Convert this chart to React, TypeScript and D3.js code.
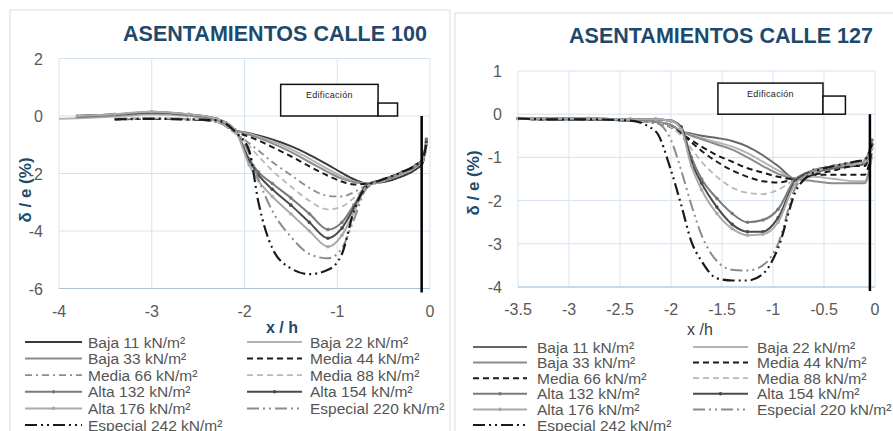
import React from 'react'
import { scaleLinear, line, curveMonotoneX } from 'd3'

const seriesNames = [
  'Baja 11 kN/m²', 'Baja 22 kN/m²', 'Baja 33 kN/m²', 'Media 44 kN/m²', 'Media 66 kN/m²',
  'Media 88 kN/m²', 'Alta 132 kN/m²', 'Alta 154 kN/m²', 'Alta 176 kN/m²',
  'Especial 220 kN/m²', 'Especial 242 kN/m²',
]

// ---- Calle 100 (x/h vs δ/e %) ----
const ticksX100 = [-4, -3, -2, -1, 0]
const ticksY100 = [-6, -4, -2, 0, 2]
const xs100 = [-4, -3.8, -3.4, -3.0, -2.6, -2.3, -2.1, -1.95, -1.85, -1.7, -1.5, -1.3, -1.1, -0.95, -0.82, -0.68, -0.5, -0.3, -0.15, -0.08, -0.04]
const baja11_100 = [NaN, 0.0, 0.05, 0.12, 0.02, -0.15, -0.5, -0.6, -0.68, -0.82, -1.05, -1.35, -1.7, -1.98, -2.2, -2.35, -2.3, -2.1, -1.85, -1.65, -0.9]
const baja22_100 = [-0.1, -0.08, -0.02, 0.05, 0.0, -0.15, -0.5, -0.62, -0.72, -0.88, -1.15, -1.48, -1.85, -2.1, -2.28, -2.35, -2.25, -2.0, -1.75, -1.55, -1.2]
const baja33_100 = [NaN, -0.05, 0.02, 0.1, 0.02, -0.15, -0.5, -0.65, -0.76, -0.95, -1.25, -1.6, -1.95, -2.18, -2.3, -2.35, -2.2, -1.95, -1.7, -1.5, -1.0]
const media44_100 = [NaN, NaN, -0.12, -0.1, -0.12, -0.2, -0.55, -0.72, -0.85, -1.08, -1.4, -1.75, -2.08, -2.28, -2.38, -2.35, -2.2, -1.95, -1.7, -1.5, -1.1]
const media66_100 = [NaN, NaN, -0.1, -0.08, -0.1, -0.2, -0.6, -0.95, -1.2, -1.6, -2.05, -2.5, -2.78, -2.8, -2.65, -2.4, -2.25, -2.0, -1.75, -1.55, -1.2]
const media88_100 = [NaN, NaN, -0.1, -0.08, -0.1, -0.2, -0.6, -1.05, -1.4, -1.9, -2.45, -2.95, -3.25, -3.15, -2.85, -2.45, -2.25, -2.0, -1.75, -1.55, -1.2]
const alta132_100 = [NaN, -0.02, 0.05, 0.15, 0.05, -0.1, -0.5, -1.5, -1.95, -2.35, -2.85, -3.4, -3.95, -3.7, -3.1, -2.4, -2.2, -1.95, -1.7, -1.5, -0.8]
const alta154_100 = [NaN, 0.0, 0.05, 0.12, 0.05, -0.1, -0.5, -1.55, -2.05, -2.55, -3.1, -3.7, -4.25, -3.9, -3.2, -2.4, -2.25, -2.0, -1.75, -1.55, -0.9]
const alta176_100 = [NaN, 0.0, 0.06, 0.15, 0.06, -0.1, -0.5, -1.7, -2.25, -2.8, -3.4, -4.0, -4.55, -4.15, -3.35, -2.45, -2.25, -2.0, -1.75, -1.55, -1.0]
const esp220_100 = [NaN, NaN, -0.1, -0.08, -0.1, -0.15, -0.55, -1.3, -2.2, -3.3, -4.2, -4.8, -4.95, -4.6, -3.6, -2.5, -2.25, -2.0, -1.75, -1.55, -1.1]
const esp242_100 = [NaN, NaN, -0.12, -0.1, -0.12, -0.15, -0.55, -1.2, -3.0, -4.6, -5.3, -5.5, -5.35, -4.8, -3.3, -2.45, -2.2, -1.95, -1.7, -1.5, -1.0]

// ---- Calle 127 ----
const ticksX127 = [-3.5, -3, -2.5, -2, -1.5, -1, -0.5, 0]
const ticksY127 = [-4, -3, -2, -1, 0, 1]
const xs127 = [-3.5, -3.2, -2.8, -2.4, -2.15, -2.0, -1.9, -1.8, -1.7, -1.55, -1.4, -1.25, -1.1, -0.95, -0.78, -0.6, -0.4, -0.2, -0.1, -0.03]
const baja11_127 = [-0.1, -0.12, -0.12, -0.15, -0.18, -0.25, -0.4, -0.45, -0.5, -0.55, -0.62, -0.75, -0.95, -1.2, -1.5, -1.35, -1.25, -1.2, -1.15, -0.7]
const baja22_127 = [-0.1, -0.12, -0.12, -0.15, -0.18, -0.25, -0.4, -0.48, -0.55, -0.65, -0.75, -0.9, -1.1, -1.3, -1.5, -1.45, -1.5, -1.55, -1.55, -1.0]
const baja33_127 = [-0.1, -0.12, -0.12, -0.15, -0.18, -0.25, -0.4, -0.5, -0.58, -0.7, -0.82, -1.0, -1.2, -1.38, -1.5, -1.55, -1.6, -1.6, -1.6, -0.9]
const media44_127 = [-0.1, -0.12, -0.12, -0.15, -0.2, -0.3, -0.45, -0.65, -0.85, -1.1, -1.3, -1.45, -1.55, -1.58, -1.5, -1.4, -1.4, -1.4, -1.4, -0.8]
const media66_127 = [-0.1, -0.12, -0.12, -0.15, -0.2, -0.3, -0.45, -0.6, -0.75, -0.95, -1.1, -1.25, -1.35, -1.45, -1.5, -1.4, -1.3, -1.2, -1.2, -0.6]
const media88_127 = [-0.1, -0.12, -0.12, -0.15, -0.2, -0.3, -0.5, -0.8, -1.1, -1.45, -1.7, -1.82, -1.85, -1.75, -1.5, -1.3, -1.2, -1.1, -1.05, -0.6]
const alta132_127 = [-0.1, -0.1, -0.1, -0.12, -0.12, -0.15, -0.3, -1.0, -1.5, -1.95, -2.3, -2.5, -2.45, -2.2, -1.5, -1.3, -1.2, -1.15, -1.1, -0.6]
const alta154_127 = [-0.1, -0.1, -0.1, -0.12, -0.12, -0.15, -0.3, -1.1, -1.6, -2.15, -2.55, -2.72, -2.72, -2.4, -1.55, -1.3, -1.2, -1.15, -1.1, -0.7]
const alta176_127 = [-0.1, -0.1, -0.1, -0.12, -0.12, -0.15, -0.35, -1.2, -1.75, -2.3, -2.65, -2.8, -2.78, -2.5, -1.6, -1.35, -1.2, -1.15, -1.1, -0.8]
const esp220_127 = [-0.1, -0.12, -0.12, -0.15, -0.2, -0.6, -1.3, -2.1, -2.8, -3.4, -3.6, -3.62, -3.5, -3.0, -1.7, -1.3, -1.2, -1.1, -1.05, -0.7]
const esp242_127 = [-0.1, -0.12, -0.12, -0.15, -0.4, -1.3, -2.1, -2.95, -3.4, -3.8, -3.85, -3.85, -3.7, -3.1, -1.8, -1.35, -1.2, -1.1, -1.05, -0.7]

const LONG_DD = '12,4,2,4,2,4'
const styles100 = [
  { stroke: '#3a3a3a', w: 2 },
  { stroke: '#b3b3b3', w: 2 },
  { stroke: '#8c8c8c', w: 2 },
  { stroke: '#1a1a1a', w: 2, dash: '6,4' },
  { stroke: '#8c8c8c', w: 1.8, dash: '7,4,2,4' },
  { stroke: '#b8b8b8', w: 1.8, dash: '6,4' },
  { stroke: '#7a7a7a', w: 2, marker: true },
  { stroke: '#4a4a4a', w: 2, marker: true },
  { stroke: '#aaaaaa', w: 2, marker: true },
  { stroke: '#8c8c8c', w: 2, dash: LONG_DD },
  { stroke: '#1a1a1a', w: 2.2, dash: LONG_DD },
]
const styles127 = styles100.map((s, i) => (i === 4 ? { stroke: '#1a1a1a', w: 2, dash: '6,4' } : i === 0 ? { stroke: '#666', w: 2 } : s))

const Chart = ({ title, xTitle, xBold, xs, values, styles, xDomain, yDomain, xRange, yRange, ticksX, ticksY,
  muroX, edif, titlePos, yTitlePos, xTitlePos, legend, border }) => {
  const x = scaleLinear().domain(xDomain).range(xRange)
  const y = scaleLinear().domain(yDomain).range(yRange)
  const path = line<number>()
    .defined(d => !isNaN(d))
    .x((d, i) => x(xs[i]))
    .y(d => y(d))
    .curve(curveMonotoneX)
  const grid = '#d5e3f0'
  return (
    <g fontFamily="'Liberation Sans', Arial, sans-serif">
      <rect x={border[0]} y={border[1]} width={border[2]} height={border[3]} fill="#fff" stroke="#dcdcdc" />
      <text x={titlePos[0]} y={titlePos[1]} textAnchor="middle" fontSize={21.5} fontWeight="bold" fill="#1d4a6c">{title}</text>
      {ticksY.map(t => (
        <g key={'y' + t}>
          <line x1={xRange[0]} x2={xRange[1]} y1={y(t)} y2={y(t)} stroke={grid} />
          <text x={xRange[0] - 16} y={y(t) + 6} textAnchor="end" fontSize={16} fill="#595959">{t}</text>
        </g>
      ))}
      {ticksX.map(t => (
        <g key={'x' + t}>
          <line x1={x(t)} x2={x(t)} y1={yRange[0]} y2={yRange[1]} stroke={grid} />
          <text x={x(t)} y={yRange[0] + 28} textAnchor="middle" fontSize={16} fill="#595959">{t}</text>
        </g>
      ))}
      <line x1={xRange[0]} x2={xRange[1]} y1={yRange[0]} y2={yRange[0]} stroke="#a9c3da" />
      <text transform={`translate(${yTitlePos[0]},${yTitlePos[1]}) rotate(-90)`} textAnchor="middle" fontSize={17}
        fontWeight="bold" fill="#1d4a6c">δ / e (%)</text>
      <text x={xTitlePos[0]} y={xTitlePos[1]} textAnchor="middle" fontSize={16} fontWeight={xBold ? 'bold' : 'normal'}
        fill={xBold ? '#1d4a6c' : '#404040'}>{xTitle}</text>
      {values.map((v, i) => (
        <g key={'s' + i}>
          <path d={path(v) || ''} fill="none" stroke={styles[i].stroke} strokeWidth={styles[i].w}
            strokeDasharray={styles[i].dash} />
          {styles[i].marker && v.map((d, j) => !isNaN(d) && (
            <circle key={j} cx={x(xs[j])} cy={y(d)} r={1.8} fill={styles[i].stroke} />
          ))}
        </g>
      ))}
      <line x1={x(muroX)} x2={x(muroX)} y1={y(0)} y2={yRange[0] + 4} stroke="#000" strokeWidth={2.5} />
      <rect x={x(edif[0])} y={y(edif[3])} width={x(edif[1]) - x(edif[0])} height={y(0) - y(edif[3])}
        fill="#fff" stroke="#111" strokeWidth={1.5} />
      <rect x={x(edif[1])} y={y(edif[4])} width={x(edif[2]) - x(edif[1])} height={y(0) - y(edif[4])}
        fill="#fff" stroke="#111" strokeWidth={1.5} />
      <text x={(x(edif[0]) + x(edif[1])) / 2} y={(y(edif[3]) + y(0)) / 2 - 2} textAnchor="middle" fontSize={9}
        letterSpacing={0.3} fill="#222">Edificación</text>
      {seriesNames.map((n, i) => {
        const col = i % 2
        const row = Math.floor(i / 2)
        const cy = legend.y0 + row * legend.dy
        const [l0, l1, tx] = legend.cols[col]
        const s = styles[i]
        return (
          <g key={'l' + i}>
            <line x1={l0} x2={l1} y1={cy} y2={cy} stroke={s.stroke} strokeWidth={s.w} strokeDasharray={s.dash} />
            {s.marker && <circle cx={(l0 + l1) / 2} cy={cy} r={1.8} fill={s.stroke} />}
            <text x={tx} y={cy + 5.5} fontSize={15.5} fill="#555">{n}</text>
          </g>
        )
      })}
    </g>
  )
}

export default function App() {
  const values100 = [baja11_100, baja22_100, baja33_100, media44_100, media66_100, media88_100,
    alta132_100, alta154_100, alta176_100, esp220_100, esp242_100]
  const values127 = [baja11_127, baja22_127, baja33_127, media44_127, media66_127, media88_127,
    alta132_127, alta154_127, alta176_127, esp220_127, esp242_127]
  return (
    <svg width={893} height={431} style={{ position: 'absolute', left: 0, top: 0, background: '#fff' }}>
      <Chart title="ASENTAMIENTOS CALLE 100" xTitle="x / h" xBold xs={xs100} values={values100} styles={styles100}
        xDomain={[-4, 0]} yDomain={[-6, 2]} xRange={[59, 430]} yRange={[288.5, 58.5]}
        ticksX={ticksX100} ticksY={ticksY100} muroX={-0.09} edif={[-1.61, -0.56, -0.35, 1.1, 0.45]}
        titlePos={[275, 41]} yTitlePos={[31, 190]} xTitlePos={[282, 333]}
        legend={{ y0: 342, dy: 16.6, cols: [[25, 82, 88], [247, 302, 310]] }}
        border={[10, 10, 440, 430]} />
      <Chart title="ASENTAMIENTOS CALLE 127" xTitle="x /h" xBold={false} xs={xs127} values={values127} styles={styles127}
        xDomain={[-3.5, 0]} yDomain={[-4, 1]} xRange={[518, 875]} yRange={[287, 71]}
        ticksX={ticksX127} ticksY={ticksY127} muroX={-0.05} edif={[-1.54, -0.51, -0.29, 0.72, 0.42]}
        titlePos={[721, 43]} yTitlePos={[479, 183]} xTitlePos={[700, 335]}
        legend={{ y0: 347, dy: 15.6, cols: [[473, 527, 537], [693, 748, 757]] }}
        border={[455, 13, 445, 430]} />
    </svg>
  )
}
